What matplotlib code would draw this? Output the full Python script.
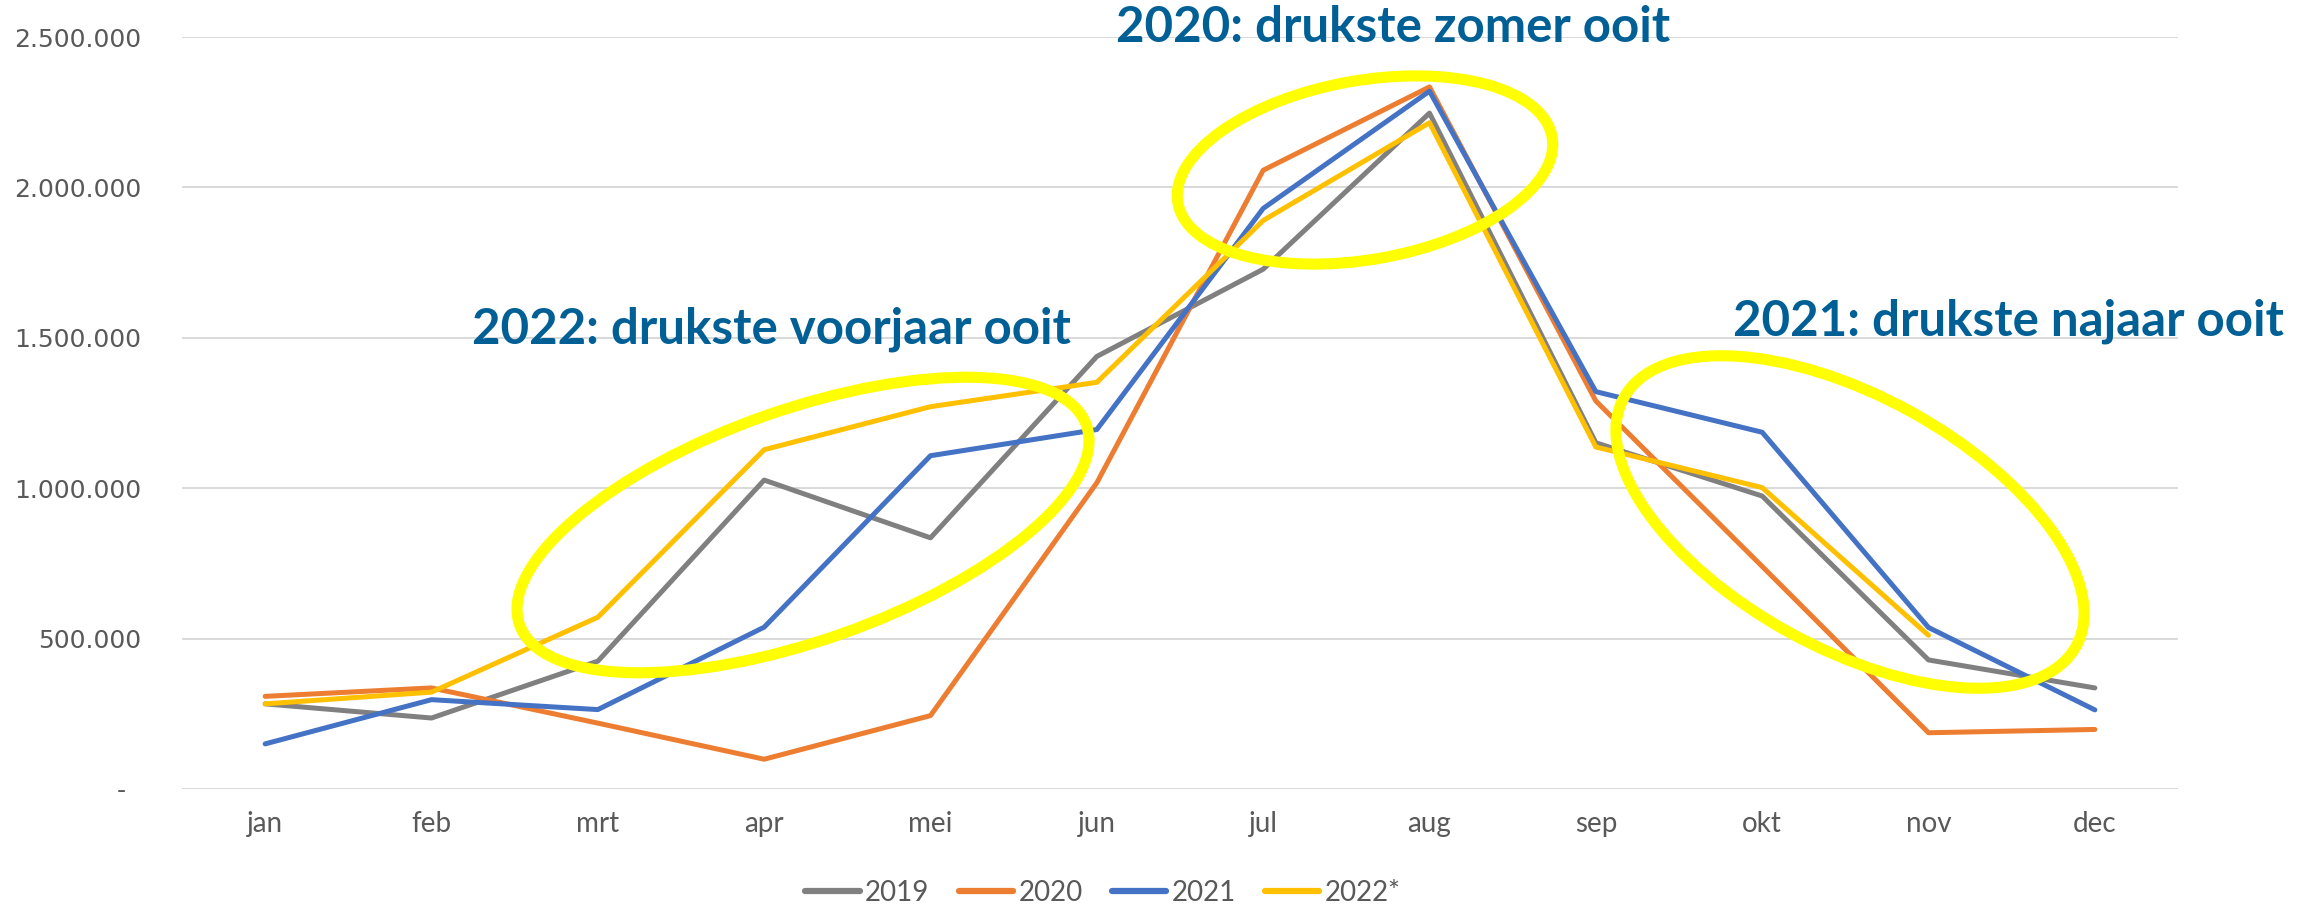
import numpy as np
import matplotlib
matplotlib.use("Agg")
import matplotlib.pyplot as plt
from matplotlib.patches import Ellipse
from matplotlib.transforms import Affine2D
from matplotlib.ticker import FuncFormatter

months = ["jan", "feb", "mrt", "apr", "mei", "jun", "jul", "aug", "sep", "okt", "nov", "dec"]
s2019 = [283000, 236000, 425000, 1027000, 835000, 1438000, 1728000, 2247000, 1151000, 974000, 429000, 336000]
s2020 = [308000, 336000, 219000, 99000, 244000, 1018000, 2057000, 2334000, 1290000, 740000, 187000, 198000]
s2021 = [150000, 297000, 264000, 538000, 1108000, 1195000, 1930000, 2320000, 1321000, 1186000, 537000, 263000]
s2022 = [283000, 322000, 571000, 1128000, 1271000, 1352000, 1890000, 2215000, 1137000, 1002000, 511000, np.nan]
series_names = ["2019", "2020", "2021", "2022*"]
series_colors = ["#808080", "#ED7D31", "#4472C4", "#FFC000"]
yticks = [0, 500000, 1000000, 1500000, 2000000, 2500000]

W, H = 2312, 907
fig = plt.figure(figsize=(W / 100, H / 100), dpi=100)
ax = fig.add_axes([182 / W, 118 / H, (2178 - 182) / W, (870 - 118) / H])

x = np.arange(len(months))
lines = []
for name, vals, col in zip(series_names, [s2019, s2020, s2021, s2022], series_colors):
    ln, = ax.plot(x, vals, color=col, lw=3.6, label=name,
                  solid_capstyle="round", solid_joinstyle="round", zorder=3)
    lines.append(ln)

ax.set_xlim(-0.5, len(months) - 0.5)
ax.set_ylim(0, 2500000)
ax.set_xticks(x)
ax.set_xticklabels(months, fontfamily="Lato", fontsize=20, color="#595959")
ax.set_yticks(yticks)
ax.yaxis.set_major_formatter(FuncFormatter(
    lambda v, p: "-  " if v == 0 else f"{v:,.0f}".replace(",", ".")))
for lab in ax.get_yticklabels():
    lab.set_fontfamily("DejaVu Sans")
ax.tick_params(axis="y", length=0, pad=29, labelsize=18, labelcolor="#595959")
ax.tick_params(axis="x", length=0, pad=16, labelcolor="#595959")
for sp in ax.spines.values():
    sp.set_visible(False)
ax.grid(axis="y", color="#D9D9D9", lw=1.4, zorder=0)
ax.set_axisbelow(True)

leg = fig.legend(handles=lines, loc="center", bbox_to_anchor=(1103 / W, 14 / H),
                 ncol=4, frameon=False, borderpad=0, handlelength=1.95,
                 handletextpad=0.2, columnspacing=1.05,
                 prop={"family": "Lato", "size": 20})
for t in leg.get_texts():
    t.set_color("#595959")
for lh in leg.get_lines():
    lh.set_linewidth(4.5)

# ellipses in pixel units
pix = Affine2D().scale(1 / W, 1 / H) + fig.transFigure
for (cx, cy, w, h, ang) in [(803, 382, 601, 231, 19.4),
                            (1365, 737, 380, 179, 10.0),
                            (1850, 385, 516, 252, -28.8)]:
    e = Ellipse((cx, cy), w, h, angle=ang, fill=False, edgecolor="#FFFF00",
                lw=8, transform=pix, zorder=5)
    fig.add_artist(e)

txt_kw = dict(family="Lato", fontweight="bold", fontsize=35.5, color="#006096",
              ha="left", va="baseline", transform=pix, zorder=6)
fig.text(1116, H - 42, "2020: drukste zomer ooit", **txt_kw)
fig.text(472, H - 343, "2022: drukste voorjaar ooit", **txt_kw)
fig.text(1733, H - 336, "2021: drukste najaar ooit", **txt_kw)

fig.savefig("out.png", dpi=100)
